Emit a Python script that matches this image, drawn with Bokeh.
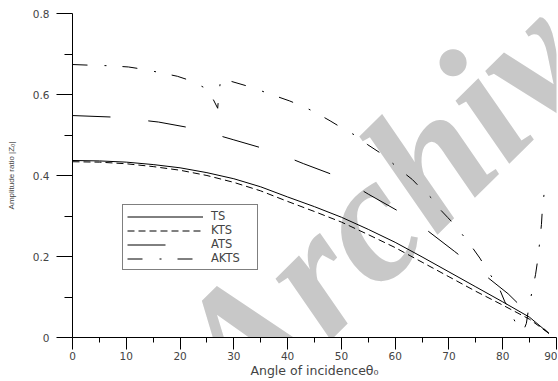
from bokeh.plotting import figure
from bokeh.models import FixedTicker, Legend, LegendItem, Label
from bokeh.embed import file_html
from bokeh.resources import INLINE

# ---- data ----
theta = [0, 5, 10, 15, 20, 25, 30, 35, 40, 45, 50, 55, 60, 65, 70, 75, 80, 85, 88.6]
ts = [0.437, 0.436, 0.433, 0.427, 0.419, 0.407, 0.392, 0.372, 0.347, 0.323, 0.297,
      0.267, 0.235, 0.199, 0.162, 0.125, 0.088, 0.050, 0.010]
kts = [0.434, 0.433, 0.429, 0.422, 0.413, 0.400, 0.383, 0.362, 0.336, 0.311, 0.285,
       0.254, 0.222, 0.186, 0.150, 0.114, 0.080, 0.045, 0.010]

ats_theta = [0, 8, 16, 23, 30, 37, 43, 50, 55, 61, 66, 71, 76, 81, 85, 88.6]
ats = [0.548, 0.544, 0.532, 0.515, 0.488, 0.461, 0.429, 0.394, 0.354, 0.309, 0.264,
       0.213, 0.161, 0.108, 0.056, 0.010]

akts_theta = [0, 4, 7, 10.4, 13.3, 16.3, 19.5, 22, 24.5, 26.2, 27.0, 27.2, 27.5, 28.0,
              28.6, 32.2, 35.1, 37.6, 40.4, 43.3, 45.4, 47.9, 50.4, 52.6, 54.9, 57.2,
              59.1, 61.1, 63.2, 64.8, 66.7, 68.3, 69.8, 71.5, 72.9, 74.3, 75.75, 77,
              78.2, 79.4, 80.4, 81.2, 82.3, 83.3, 83.9, 84.4, 84.8, 85.5, 86.1, 86.6,
              86.9, 87.2, 87.4, 87.7, 88.0, 88.4]
akts = [0.674, 0.672, 0.671, 0.668, 0.662, 0.654, 0.645, 0.634, 0.617, 0.587, 0.566,
        0.599, 0.632, 0.640, 0.636, 0.622, 0.609, 0.597, 0.584, 0.568, 0.554, 0.535,
        0.515, 0.499, 0.476, 0.456, 0.435, 0.412, 0.390, 0.368, 0.345, 0.317, 0.296,
        0.272, 0.247, 0.223, 0.196, 0.169, 0.145, 0.120, 0.088, 0.069, 0.039, 0.022,
        0.018, 0.035, 0.070, 0.117, 0.155, 0.200, 0.240, 0.279, 0.323, 0.355, 0.360,
        0.333]

x_ticks = [0, 10, 20, 30, 40, 50, 60, 70, 80, 90]
x_minor = [5, 15, 25, 35, 45, 55, 65, 75, 85]
y_ticks = [0, 0.2, 0.4, 0.6, 0.8]
y_tick_labels = ["0", "0.2", "0.4", "0.6", "0.8"]
y_minor = [0.1, 0.3, 0.5, 0.7]
series_names = ["TS", "KTS", "ATS", "AKTS"]

p = figure(width=557, height=380, x_range=(0, 90), y_range=(0, 0.8),
           output_backend="svg", toolbar_location=None,
           min_border_left=72, min_border_right=1, min_border_top=13, min_border_bottom=42)
p.outline_line_color = None
p.grid.visible = False
p.background_fill_color = "white"
p.border_fill_color = "white"

# watermark
wm = Label(x=36.8, y=-0.29, text="Archive of SID", angle=0.78,
           text_font="Liberation Serif", text_font_style="bold italic",
           text_font_size="180px", text_color="#c8c8c8", level="underlay")
p.add_layout(wm)

r_ts = p.line(theta, ts, line_color="black", line_width=1)
r_kts = p.line(theta, kts, line_color="black", line_width=1, line_dash="7 4")
r_ats = p.line(ats_theta, ats, line_color="black", line_width=1, line_dash="38 38")
r_akts = p.line(akts_theta, akts, line_color="black", line_width=1, line_dash="15 17 2 16")

tick_font = "DejaVu Sans"

xa = p.xaxis[0]
xa.ticker = FixedTicker(ticks=x_ticks, minor_ticks=x_minor)
xa.major_tick_out = 12
xa.major_tick_in = 0
xa.minor_tick_out = 5
xa.minor_tick_in = 0
xa.major_label_standoff = 2
xa.major_label_text_font = tick_font
xa.major_label_text_font_size = "10.5px"
xa.axis_label = "Angle of incidence\u03b8\u2080"
xa.axis_label_text_font = tick_font
xa.axis_label_text_font_size = "12.5px"
xa.axis_label_text_font_style = "normal"
xa.axis_label_standoff = 0
xa.axis_line_color = "black"
xa.major_tick_line_color = "black"
xa.minor_tick_line_color = "black"

ya = p.yaxis[0]
ya.ticker = FixedTicker(ticks=y_ticks, minor_ticks=y_minor)
ya.major_label_overrides = {t: s for t, s in zip(y_ticks, y_tick_labels)}
ya.major_tick_out = 16
ya.major_tick_in = 0
ya.minor_tick_out = 8
ya.minor_tick_in = 0
ya.major_label_standoff = 7
ya.major_label_text_font = tick_font
ya.major_label_text_font_size = "10.5px"
ya.axis_label = "Amplitude ratio |Z\u2080|"
ya.axis_label_text_font = "Liberation Sans"
ya.axis_label_text_font_size = "8px"
ya.axis_label_text_font_style = "normal"
ya.axis_label_standoff = 14
ya.axis_line_color = "black"
ya.major_tick_line_color = "black"
ya.minor_tick_line_color = "black"

legend = Legend(items=[LegendItem(label=n, renderers=[r]) for n, r in
                       zip(series_names, [r_ts, r_kts, r_ats, r_akts])],
                location=(50, 67), border_line_color="black", border_line_width=1,
                padding=4, spacing=0, glyph_width=76, glyph_height=11, label_height=11,
                label_width=42, label_standoff=8, label_text_font=tick_font,
                label_text_font_size="11.5px",
                margin=0, background_fill_color="white", background_fill_alpha=1.0)
p.add_layout(legend)

open("out.html", "w").write(file_html(p, INLINE))
